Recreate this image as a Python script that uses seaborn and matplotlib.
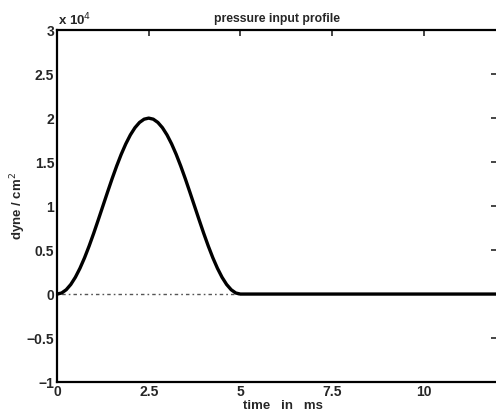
import matplotlib
matplotlib.use("Agg")
import matplotlib.pyplot as plt
import seaborn as sns
import pandas as pd
from matplotlib.ticker import FuncFormatter

# pressure profile (time in ms, pressure in dyne/cm^2)
time_ms = [0, 0.125, 0.25, 0.375, 0.5, 0.625, 0.75, 0.875, 1.0, 1.125, 1.25,
           1.375, 1.5, 1.625, 1.75, 1.875, 2.0, 2.125, 2.25, 2.375, 2.5,
           2.625, 2.75, 2.875, 3.0, 3.125, 3.25, 3.375, 3.5, 3.625, 3.75,
           3.875, 4.0, 4.125, 4.25, 4.375, 4.5, 4.625, 4.75, 4.875, 5.0, 12.0]
pressure = [0, 120, 490, 1090, 1910, 2930, 4120, 5460, 6910, 8440, 10000,
            11560, 13090, 14540, 15880, 17070, 18090, 18910, 19510, 19880, 20000,
            19880, 19510, 18910, 18090, 17070, 15880, 14540, 13090, 11560, 10000,
            8440, 6910, 5460, 4120, 2930, 1910, 1090, 490, 120, 0, 0]

# reference zero line (dotted) over the pulse duration
zero_t = [0, 5]
zero_p = [0, 0]

x_ticks = [0, 2.5, 5, 7.5, 10]
x_labels = ["0", "2.5", "5", "7.5", "10"]
y_ticks = [-10000, -5000, 0, 5000, 10000, 15000, 20000, 25000, 30000]

sns.set_style("white")
plt.rcParams['font.family'] = ['Liberation Sans', 'DejaVu Sans']

fig = plt.figure(figsize=(4.96, 4.13), dpi=100)
ax = fig.add_axes([0.115, 0.075, 0.887, 0.852])

df = pd.DataFrame({"t": time_ms, "p": pressure})
dz = pd.DataFrame({"t": zero_t, "p": zero_p})

sns.lineplot(data=dz, x="t", y="p", ax=ax, color="#555555", lw=1.0,
             linestyle=(0, (1.2, 2.2, 2.5, 2.2)), sort=False)
sns.lineplot(data=df, x="t", y="p", ax=ax, color="black", lw=2.4, sort=False)

ax.set_xlim(0, 12)
ax.set_ylim(-10000, 30000)
ax.set_xticks(x_ticks)
ax.set_xticklabels(x_labels)
ax.set_yticks(y_ticks)
ax.yaxis.set_major_formatter(FuncFormatter(lambda v, pos: f"{v/1e4:g}".replace("-", "\u2212")))

ax.tick_params(direction="in", length=4, width=1.2, top=True, right=True,
               labelsize=10, pad=2)
for lab in ax.get_xticklabels() + ax.get_yticklabels():
    lab.set_fontweight("bold")

for side in ["left", "bottom", "top"]:
    ax.spines[side].set_linewidth(1.6)
    ax.spines[side].set_color("black")
ax.spines["right"].set_visible(False)

ax.set_title("pressure input profile", fontsize=8.8, fontweight="bold", pad=6)
ax.set_xlabel("time   in   ms", fontsize=9.5, fontweight="bold")
ax.xaxis.set_label_coords(0.514, -0.068)
ax.xaxis.label.set_verticalalignment("center")
ax.set_ylabel("dyne / cm$^2$", fontsize=9.5, fontweight="bold")
ax.yaxis.set_label_coords(-0.066, 0.5)

fig.text(0.117, 0.9395, "x 10$^4$", fontsize=9.5, fontweight="bold", ha="left", va="baseline")

fig.savefig("out.png", dpi=100)
